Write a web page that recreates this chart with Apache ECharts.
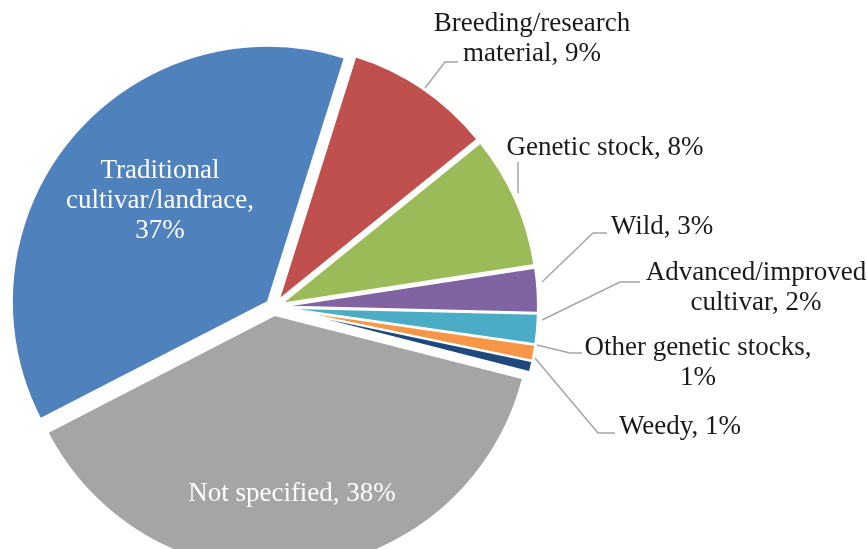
<!DOCTYPE html>
<html>
<head>
<meta charset="utf-8">
<script src="https://cdn.jsdelivr.net/npm/echarts@6/dist/echarts.min.js"></script>
<style>
  html, body { margin: 0; padding: 0; background: #fff; }
  #chart { width: 867px; height: 549px; }
</style>
</head>
<body>
<div id="chart"></div>
<script>
// 数据（从原图读取的估计值，单位：%）
const categories = ['Breeding/research material', 'Genetic stock', 'Wild', 'Advanced/improved cultivar',
  'Other genetic stocks', 'Weedy', 'Not specified', 'Traditional cultivar/landrace'];
const shares = [9.3, 8.4, 2.8, 1.9, 1.0, 0.7, 38.4, 37.4];
const sliceColors = ['#c0504d', '#9bbb59', '#8064a2', '#4bacc6', '#f79646', '#1f497d', '#a5a5a5', '#4f81bd'];
// 标签换行位置
const labelNames = ['Breeding/research\nmaterial', 'Genetic stock', 'Wild', 'Advanced/improved\ncultivar',
  'Other genetic stocks', 'Weedy', 'Not specified', 'Traditional\ncultivar/landrace'];
const pctOnNewLine = ['Other genetic stocks', 'Traditional cultivar/landrace'];
const insideLabels = ['Not specified', 'Traditional cultivar/landrace'];

// 标签位置与引导线
const labelSpots = [
  { x: 532, y: 39, line: [[425, 88], [445, 62], [458, 62]] },
  { x: 605, y: 148, line: [[518, 193], [518, 162]] },
  { x: 662, y: 227, line: [[542, 282], [593, 233], [607, 233]] },
  { x: 756, y: 288, line: [[542, 320], [620, 282], [640, 282]] },
  { x: 698, y: 363, line: [[537, 345], [570, 353], [582, 353]] },
  { x: 680, y: 427, line: [[535, 358], [598, 433], [615, 433]] },
  { x: 292, y: 494 },
  { x: 160, y: 201 }
];

const PIE_CENTER = [274, 307];
const PIE_RADIUS = 256;
const START_ANGLE = 72.5;

const chart = echarts.init(document.getElementById('chart'));

// 扇区（全部选中以实现分离效果）
const sliceData = categories.map(function (name, i) {
  return { name: name, value: shares[i], selected: true, itemStyle: { color: sliceColors[i] } };
});

// 标签层（透明扇区，只负责文字和引导线）
const labelData = categories.map(function (name, i) {
  const inside = insideLabels.indexOf(name) >= 0;
  return {
    name: name,
    value: shares[i],
    label: { color: inside ? '#ffffff' : '#1a1a1a' },
    labelLine: { show: !inside }
  };
});

const option = {
  backgroundColor: '#ffffff',
  animation: false,
  series: [
    {
      type: 'pie',
      center: PIE_CENTER,
      radius: PIE_RADIUS,
      startAngle: START_ANGLE,
      clockwise: true,
      selectedMode: 'multiple',
      selectedOffset: 8,
      silent: true,
      emphasis: { disabled: true },
      itemStyle: { borderColor: '#ffffff', borderWidth: 2 },
      select: { itemStyle: { borderColor: '#ffffff', borderWidth: 2 } },
      label: { show: false },
      labelLine: { show: false },
      data: sliceData
    },
    {
      type: 'pie',
      center: PIE_CENTER,
      radius: PIE_RADIUS,
      startAngle: START_ANGLE,
      clockwise: true,
      silent: true,
      avoidLabelOverlap: false,
      emphasis: { disabled: true },
      itemStyle: { color: 'rgba(0,0,0,0)' },
      data: labelData,
      label: {
        show: true,
        fontFamily: 'Liberation Serif',
        fontSize: 27,
        lineHeight: 30,
        align: 'center',
        formatter: function (p) {
          const sep = pctOnNewLine.indexOf(p.name) >= 0 ? ',\n' : ', ';
          return labelNames[p.dataIndex] + sep + Math.round(p.percent) + '%';
        }
      },
      labelLine: {
        show: true,
        lineStyle: { color: '#a6a6a6', width: 1.5 }
      },
      labelLayout: function (params) {
        const spot = labelSpots[params.dataIndex];
        const out = { x: spot.x, y: spot.y, align: 'center', verticalAlign: 'middle' };
        if (spot.line) out.labelLinePoints = spot.line;
        return out;
      }
    }
  ]
};

chart.setOption(option);

window.addEventListener('resize', function () {
  chart.resize();
});
</script>
</body>
</html>
